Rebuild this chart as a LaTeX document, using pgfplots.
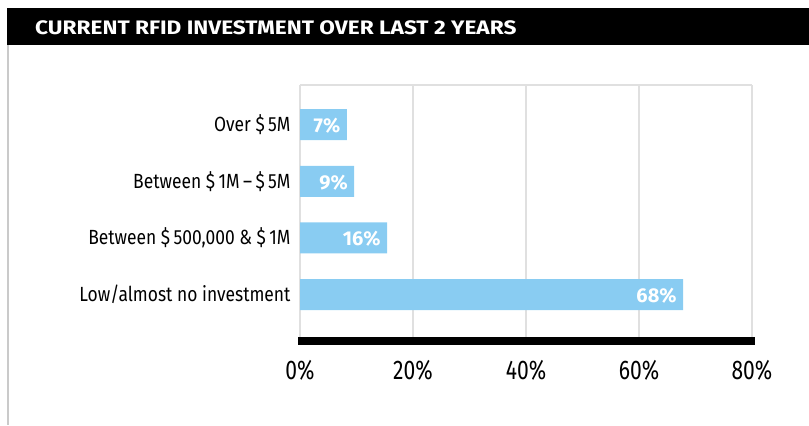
\documentclass[border=0pt]{standalone}
\usepackage{fontspec}
\setmainfont{Fira Sans}
\newfontfamily\condfont[FakeStretch=0.85]{Fira Sans}
\newfontfamily\tickfont[FakeStretch=0.78]{Fira Sans}
\newfontfamily\titlefont[FakeStretch=1.16]{Fira Sans}
\usepackage{pgfplots}
\pgfplotsset{compat=1.18}
\definecolor{barblue}{RGB}{137,204,242}
\definecolor{gridgray}{RGB}{224,224,224}
\begin{document}
\begin{tikzpicture}[x=1bp,y=1bp]
\useasboundingbox (0,0) rectangle (809,425);
\fill[black] (7,380) rectangle (809,417);
\node[anchor=base west, text=white, inner sep=0pt, font=\titlefont\bfseries\fontsize{19.5bp}{22bp}\selectfont] at (35,390) {CURRENT RFID INVESTMENT OVER LAST 2 YEARS};
\draw[gridgray!90!black, line width=2bp] (8,380) -- (8,0);
\begin{axis}[
  at={(300bp,84bp)}, anchor=south west,
  scale only axis, width=452bp, height=256bp,
  xbar, bar width=31bp,
  xmin=0, xmax=80, ymin=-0.82, ymax=3.7,
  xtick={0,20,40,60,80},
  xticklabel={\pgfmathprintnumber{\tick}\%},
  ytick={0,1,2,3},
  yticklabels={Low/almost no investment, Between \$\,500{,}000 \& \$\,1M, Between \$\,1M\,–\,\$\,5M, Over \$\,5M},
  /pgf/number format/assume math mode=true,
  xticklabel style={font=\tickfont\fontsize{27bp}{30bp}\selectfont, yshift=-16bp},
  yticklabel style={font=\condfont\fontsize{20.5bp}{23bp}\selectfont, xshift=-6bp},
  major tick length=0pt,
  axis line style={draw=none},
  xmajorgrids, major grid style={gridgray, line width=2bp},
  point meta=explicit symbolic,
  nodes near coords={\pgfplotspointmeta\%},
  nodes near coords style={anchor=east, text=white, font=\bfseries\fontsize{20bp}{22bp}\selectfont, xshift=-3bp, yshift=-1bp},
  clip=false,
]
\addplot[fill=barblue, draw=none] coordinates {(67.8,0) [68] (15.4,1) [16] (9.6,2) [9] (8.3,3) [7]};
\end{axis}
\draw[gridgray, line width=2bp] (300,340) -- (752,340);
\draw[black, line width=8bp] (298,84) -- (755,84);
\end{tikzpicture}
\end{document}
